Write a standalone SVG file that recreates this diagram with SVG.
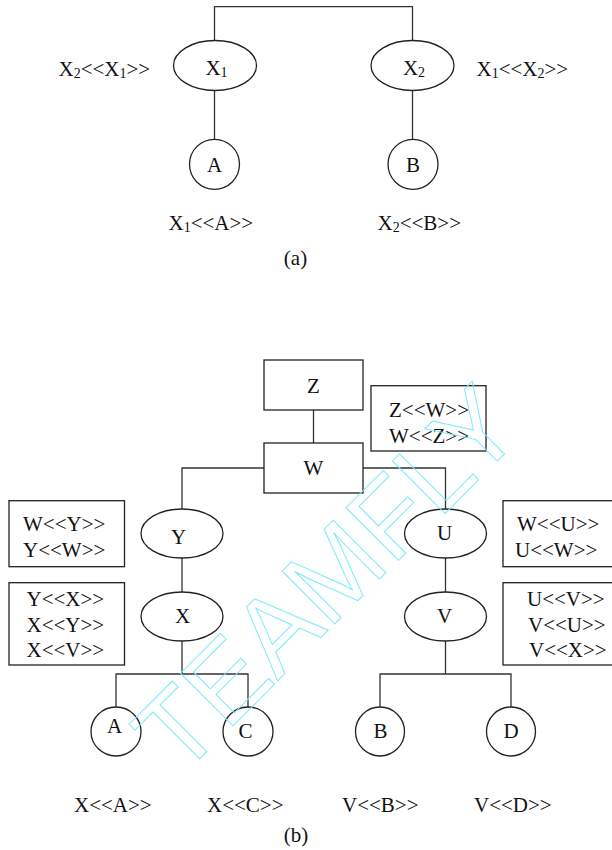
<svg xmlns="http://www.w3.org/2000/svg" width="612" height="850" viewBox="0 0 612 850">
<style>
text{font-family:"Liberation Serif","Times New Roman",serif;font-size:21px;fill:#111}
.m{text-anchor:middle}
.sub{font-size:14px}
.shape{fill:none;stroke:#222;stroke-width:1.3}
.conn{fill:none;stroke:#333;stroke-width:1.3}
.wm{font-family:"Liberation Sans",Arial,sans-serif;font-size:108px;fill:none;stroke:#7eebf8;stroke-width:1}
</style>
<rect width="612" height="850" fill="#fff"/>
<g id="connectors">
<path class="conn" d="M214.5,40 V6.7 H412.5 V40"/>
<path class="conn" d="M214.5,90.7 V139.3"/>
<path class="conn" d="M412.5,90.7 V139.3"/>
<path class="conn" d="M313.5,410 V443"/>
<path class="conn" d="M264,468 H182 V509"/>
<path class="conn" d="M363,468 H445.5 V509"/>
<path class="conn" d="M182,558 V592"/>
<path class="conn" d="M445.5,558 V592"/>
<path class="conn" d="M182,641 V674 M116,707 V674 H248 V707"/>
<path class="conn" d="M445.5,641 V674 M380,707 V674 H511 V707"/>
</g>
<g id="part-a">
<g id="node-X1"><ellipse class="shape" cx="215" cy="65.5" rx="41.5" ry="25"/><text x="216.5" y="75" class="m">X<tspan class="sub" dy="2">1</tspan></text></g>
<g id="node-X2"><ellipse class="shape" cx="412.5" cy="65.5" rx="41.5" ry="25"/><text x="414" y="75" class="m">X<tspan class="sub" dy="2">2</tspan></text></g>
<g id="node-A1"><ellipse class="shape" cx="214.5" cy="164.3" rx="25" ry="25"/><text x="214.5" y="172" class="m">A</text></g>
<g id="node-B1"><ellipse class="shape" cx="413" cy="164.3" rx="25" ry="25"/><text x="413" y="172" class="m">B</text></g>
<g id="labels-a">
<text x="58.5" y="76">X<tspan class="sub" dy="2">2</tspan><tspan dy="-2">&lt;&lt;X</tspan><tspan class="sub" dy="2">1</tspan><tspan dy="-2">&gt;&gt;</tspan></text>
<text x="476.5" y="76">X<tspan class="sub" dy="2">1</tspan><tspan dy="-2">&lt;&lt;X</tspan><tspan class="sub" dy="2">2</tspan><tspan dy="-2">&gt;&gt;</tspan></text>
<text x="168.5" y="230">X<tspan class="sub" dy="2">1</tspan><tspan dy="-2">&lt;&lt;A&gt;&gt;</tspan></text>
<text x="377.5" y="230">X<tspan class="sub" dy="2">2</tspan><tspan dy="-2">&lt;&lt;B&gt;&gt;</tspan></text>
<text x="295.5" y="265" class="m">(a)</text>
</g>
</g>
<g id="part-b">
<g id="node-Z"><rect class="shape" x="264" y="360" width="99" height="50"/><text x="313.5" y="393" class="m">Z</text></g>
<g id="node-W"><rect class="shape" x="264" y="443" width="99" height="50"/><text x="313.5" y="475" class="m">W</text></g>
<g id="box-ZW"><rect class="shape" x="371" y="385.7" width="115" height="65.3"/><text x="389" y="417">Z&lt;&lt;W&gt;&gt;</text><text x="389" y="443">W&lt;&lt;Z&gt;&gt;</text></g>
<g id="node-Y"><ellipse class="shape" cx="182" cy="533.5" rx="41" ry="24.5"/><text x="178.5" y="544" class="m">Y</text></g>
<g id="node-U"><ellipse class="shape" cx="445.5" cy="533.5" rx="41" ry="24.5"/><text x="444.5" y="540" class="m">U</text></g>
<g id="node-X"><ellipse class="shape" cx="182" cy="616.5" rx="41" ry="24.5"/><text x="182.5" y="623" class="m">X</text></g>
<g id="node-V"><ellipse class="shape" cx="445.5" cy="616.5" rx="41" ry="24.5"/><text x="444.5" y="623" class="m">V</text></g>
<g id="box-WY"><rect class="shape" x="9" y="500.7" width="115.5" height="66"/><text x="23" y="531">W&lt;&lt;Y&gt;&gt;</text><text x="23" y="557">Y&lt;&lt;W&gt;&gt;</text></g>
<g id="box-YX"><rect class="shape" x="9" y="582.7" width="115.5" height="82.3"/><text x="26.5" y="606">Y&lt;&lt;X&gt;&gt;</text><text x="26.5" y="632">X&lt;&lt;Y&gt;&gt;</text><text x="26.5" y="657">X&lt;&lt;V&gt;&gt;</text></g>
<g id="box-WU"><rect class="shape" x="503" y="500.7" width="115" height="66"/><text x="517" y="531">W&lt;&lt;U&gt;&gt;</text><text x="515" y="557">U&lt;&lt;W&gt;&gt;</text></g>
<g id="box-UV"><rect class="shape" x="503" y="582.7" width="115" height="82.3"/><text x="527" y="606">U&lt;&lt;V&gt;&gt;</text><text x="528" y="632">V&lt;&lt;U&gt;&gt;</text><text x="529" y="657">V&lt;&lt;X&gt;&gt;</text></g>
<g id="node-A"><ellipse class="shape" cx="116" cy="731.5" rx="25" ry="24.5"/><text x="114.5" y="733" class="m">A</text></g>
<g id="node-C"><ellipse class="shape" cx="248" cy="731.5" rx="25" ry="24.5"/><text x="245.5" y="738" class="m">C</text></g>
<g id="node-B"><ellipse class="shape" cx="380" cy="731.5" rx="24.5" ry="24.5"/><text x="380.5" y="738" class="m">B</text></g>
<g id="node-D"><ellipse class="shape" cx="511" cy="731.5" rx="24.5" ry="24.5"/><text x="511" y="738" class="m">D</text></g>
<g id="labels-b">
<text x="74" y="812">X&lt;&lt;A&gt;&gt;</text>
<text x="207" y="812">X&lt;&lt;C&gt;&gt;</text>
<text x="342" y="812">V&lt;&lt;B&gt;&gt;</text>
<text x="474" y="812">V&lt;&lt;D&gt;&gt;</text>
<text x="296" y="842" class="m">(b)</text>
</g>
</g>
<g id="watermark">
<text class="wm" transform="translate(180,778.6) rotate(-45)">TEAMFLY</text>
</g>
</svg>
